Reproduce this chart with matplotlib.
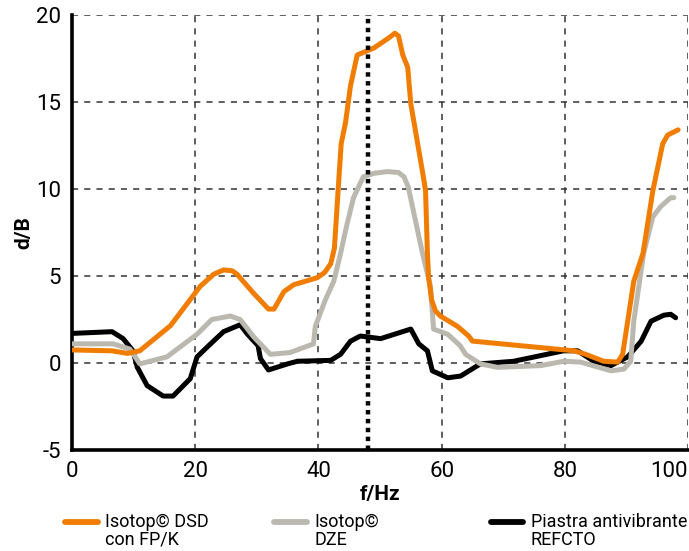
import matplotlib
matplotlib.use("Agg")
import matplotlib.pyplot as plt
from matplotlib.lines import Line2D

plt.rcParams["font.family"] = ["Roboto", "DejaVu Sans"]
plt.rcParams["axes.unicode_minus"] = False

ORANGE = "#f07d00"
GREY = "#bbb8b0"
BLACK = "#000000"

# Isotop© DSD con FP/K
dsd_f = [0, 6.5, 9.0, 11.0, 16.0, 20.8, 23.0, 24.6, 26.0, 26.8, 29.5, 31.9, 32.8,
         34.4, 36.0, 39.8, 41.0, 42.0, 42.6, 43.2, 43.7, 44.4, 45.2, 46.3, 49.0,
         51.5, 52.4, 53.0, 53.7, 54.5, 55.0, 56.9, 57.4, 57.7, 57.9, 58.4, 59.0,
         59.8, 62.6, 64.4, 65.0, 81.5, 83.4, 86.3, 88.6, 89.4, 91.2, 92.7, 94.3,
         95.9, 96.7, 98.4]
dsd_db = [0.75, 0.7, 0.55, 0.7, 2.15, 4.4, 5.1, 5.35, 5.3, 5.1, 4.0, 3.1, 3.1,
          4.1, 4.5, 4.9, 5.2, 5.7, 6.6, 9.9, 12.6, 13.8, 15.9, 17.7, 18.1,
          18.7, 18.95, 18.8, 17.7, 17.0, 14.9, 11.0, 9.9, 6.3, 4.9, 3.6, 3.0,
          2.7, 2.1, 1.55, 1.26, 0.7, 0.5, 0.1, 0.05, 0.5, 4.7, 6.3, 9.9,
          12.6, 13.1, 13.4]

# Isotop© DZE
dze_f = [0, 6.7, 9.4, 11.0, 15.4, 20.3, 22.7, 25.7, 27.3, 29.5, 32.2, 35.4, 39.2,
         39.5, 41.1, 42.5, 43.6, 44.6, 45.7, 47.3, 49.0, 51.2, 53.0, 53.9, 54.6,
         56.9, 58.2, 58.7, 61.0, 63.0, 63.9, 66.3, 69.1, 76.1, 79.8, 82.6, 87.5,
         89.6, 90.7, 91.2, 92.8, 94.3, 95.6, 97.2, 97.7]
dze_db = [1.1, 1.1, 0.8, -0.05, 0.35, 1.65, 2.5, 2.7, 2.5, 1.5, 0.5, 0.6, 1.1,
          2.1, 3.6, 4.7, 6.3, 7.9, 9.5, 10.7, 10.9, 11.0, 10.95, 10.7, 10.1,
          6.3, 4.4, 1.95, 1.65, 1.0, 0.5, -0.05, -0.25, -0.15, 0.1, 0.05, -0.45,
          -0.35, 0.1, 2.4, 6.3, 8.4, 9.0, 9.5, 9.5]

# Piastra antivibrante REFCTO
ref_f = [0, 6.5, 8.3, 9.9, 10.6, 12.2, 14.8, 16.4, 19.2, 20.3, 21.9, 24.6, 27.3,
         28.5, 30.2, 30.6, 31.9, 35.0, 36.6, 42.0, 43.6, 45.2, 46.8, 50.1, 55.0,
         56.3, 57.7, 58.5, 61.0, 63.1, 66.3, 71.7, 79.8, 82.1, 84.7, 87.5, 90.2,
         92.4, 94.0, 96.1, 97.2, 98.0]
ref_db = [1.7, 1.8, 1.4, 0.7, -0.25, -1.3, -1.9, -1.9, -0.9, 0.35, 0.9, 1.8, 2.2,
          1.65, 1.0, 0.25, -0.4, -0.05, 0.1, 0.15, 0.5, 1.25, 1.55, 1.4, 1.95,
          1.1, 0.7, -0.45, -0.85, -0.75, -0.05, 0.1, 0.7, 0.7, 0.1, -0.15, 0.35,
          1.25, 2.4, 2.75, 2.8, 2.6]

series = [
    ("Isotop© DSD\ncon FP/K", dsd_f, dsd_db, ORANGE, 3),
    ("Isotop©\nDZE", dze_f, dze_db, GREY, 2),
    ("Piastra antivibrante\nREFCTO", ref_f, ref_db, BLACK, 1),
]

marker_f = 48.0
x_ticks = [0, 20, 40, 60, 80, 100]
y_ticks = [-5, 0, 5, 10, 15, 20]

fig = plt.figure(figsize=(6.89, 5.51), dpi=100)
ax = fig.add_axes([0.1045, 0.1833, 0.894, 0.7895])

for label, f, db, color, z in series:
    ax.plot(f, db, color=color, lw=3.6, solid_capstyle="round",
            solid_joinstyle="round", zorder=z + 2)

ax.axvline(marker_f, color=BLACK, lw=3.2, linestyle=(0, (1, 1)), zorder=6)

ax.set_xlim(0, 100)
ax.set_ylim(-5, 20)
ax.set_xticks(x_ticks)
ax.set_yticks(y_ticks)
ax.grid(True, color="#333333", linestyle=(0, (4, 4)), lw=1.1)
ax.set_axisbelow(True)
ax.tick_params(length=0, labelsize=16, pad=8)
labels = ax.get_xticklabels()
labels[-1].set_horizontalalignment("right")

for side in ("top", "right"):
    ax.spines[side].set_visible(False)
for side in ("left", "bottom"):
    ax.spines[side].set_linewidth(2.6)

ax.set_xlabel("f/Hz", fontsize=15, fontweight="bold", labelpad=2)
ax.set_ylabel("d/B", fontsize=15, fontweight="bold", labelpad=2)

# legend drawn by hand so the line sits on the first text row
handle_x = [0.095, 0.398, 0.712]
for (label, f, db, color, z), hx in zip(series, handle_x):
    fig.add_artist(Line2D([hx, hx + 0.047], [0.052, 0.052], color=color, lw=4.2,
                          solid_capstyle="round", transform=fig.transFigure))
    fig.text(hx + 0.058, 0.069, label, fontsize=13, va="top", ha="left",
             linespacing=1.0)

fig.savefig("out.png", dpi=100)
